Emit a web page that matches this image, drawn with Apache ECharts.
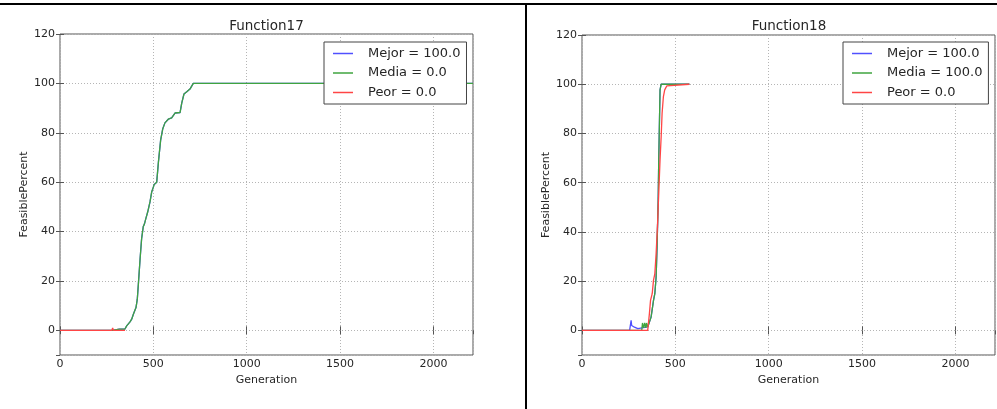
<!DOCTYPE html>
<html>
<head>
<meta charset="utf-8">
<script src="https://cdn.jsdelivr.net/npm/echarts@6/dist/echarts.min.js"></script>
<style>
html, body { margin: 0; padding: 0; background: #fff; }
#chart { width: 997px; height: 409px; }
</style>
</head>
<body>
<div id="chart"></div>
<script>
// axis ranges (same on both panels)
var xMin = 0, xMax = 2212, xStep = 500;
var yMin = -10, yMax = 120, yStep = 20;

var titles = ['Function17', 'Function18'];
var legend17 = ['Mejor = 100.0', 'Media = 0.0', 'Peor = 0.0'];
var legend18 = ['Mejor = 100.0', 'Media = 100.0', 'Peor = 0.0'];

// Function17 (left)
var f17MediaGen = [0, 280, 318, 322, 330, 336, 348, 357, 366, 375, 384, 393, 402, 407, 414, 420, 429, 437, 446, 452, 459, 470, 482, 491, 500, 504, 518, 527, 539, 550, 562, 580, 598, 607, 616, 643, 652, 664, 679, 696, 705, 714, 2212];
var f17MediaVal = [0, 0, 0.5, 0, 0.5, 0, 0.5, 1.8, 2, 3.4, 4.5, 6.5, 7, 9.2, 12.6, 19, 29, 37, 42, 43, 45, 48, 52, 56, 58, 59, 60, 68, 77, 81.5, 84, 85.5, 86, 86.5, 88, 88.2, 92, 95.7, 96.6, 97.7, 98, 100, 100];
var f17MejorGen = f17MediaGen;
var f17MejorVal = f17MediaVal;
var f17PeorGen = [0, 278, 282, 286, 348];
var f17PeorVal = [0, 0, 1, 0, 0];

// Function18 (right)
var f18MejorGen = [0, 255, 263, 266, 272, 281, 290, 299, 303, 352, 370, 383, 390, 397, 402, 408, 411, 415, 418, 424, 575];
var f18MejorVal = [0, 0, 4.1, 2, 2, 1.3, 1.3, 0.7, 0, 1.4, 5.4, 12.2, 14.9, 21.7, 33.9, 52.9, 69.2, 85.5, 97.7, 100, 100];
var f18MediaGen = [0, 232, 237, 242, 320, 324, 330, 336, 342, 346, 352, 370, 383, 390, 397, 402, 408, 411, 415, 418, 424, 575];
var f18MediaVal = [0, 0, 0.7, 0, 0, 3, 1, 3, 1, 3, 1.4, 5.4, 12.2, 14.9, 21.7, 33.9, 52.9, 69.2, 85.5, 97.7, 100, 100];
var f18PeorGen = [0, 352, 361, 367, 376, 383, 390, 397, 404, 411, 418, 424, 429, 436, 443, 454, 464, 575];
var f18PeorVal = [0, 0, 6.8, 12.2, 14.9, 20.4, 23, 31.2, 42, 55.6, 69.2, 78.7, 88.2, 95, 97.7, 99.3, 100, 100];

var colors = { mejor: '#5050ff', media: '#3fa43f', peor: '#ff4545' };
var textColor = '#262626';
var frameColor = '#555';
var font = 'DejaVu Sans';

function pairs(g, v) {
  return g.map(function (x, i) { return [x, v[i]]; });
}

var chart = echarts.init(document.getElementById('chart'), null, { renderer: 'canvas' });

var grids = [
  { left: 60, top: 34, width: 413, height: 321 },
  { left: 582, top: 35, width: 413, height: 320 }
];

var plain = function (v) { return String(v); };

var xAxes = [], yAxes = [];
grids.forEach(function (g, gi) {
  // bottom axis with labels
  xAxes.push({
    gridIndex: gi, type: 'value', position: 'bottom', min: xMin, max: xMax, interval: xStep,
    name: 'Generation', nameLocation: 'middle', nameGap: 20,
    nameTextStyle: { fontFamily: font, fontSize: 11, color: textColor },
    axisLine: { show: false },
    axisTick: { show: true, inside: true, length: 4, lineStyle: { color: frameColor } },
    axisLabel: { margin: 4, fontFamily: font, fontSize: 11, color: textColor, showMaxLabel: false, formatter: plain },
    splitLine: { show: true, lineStyle: { color: '#b5b5b5', type: [1, 2], width: 1 } }
  });
  // top axis, ticks only
  xAxes.push({
    gridIndex: gi, type: 'value', position: 'top', min: xMin, max: xMax, interval: xStep,
    axisLine: { show: false },
    axisTick: { show: true, inside: true, length: 4, lineStyle: { color: frameColor } },
    axisLabel: { show: false }, splitLine: { show: false }
  });
  yAxes.push({
    gridIndex: gi, type: 'value', position: 'left', min: yMin, max: yMax,
    minInterval: yStep, maxInterval: yStep, splitNumber: 6,
    name: 'FeasiblePercent', nameLocation: 'middle', nameGap: 30,
    nameTextStyle: { fontFamily: font, fontSize: 11, color: textColor },
    axisLine: { show: false },
    axisTick: { show: true, inside: true, length: 4, lineStyle: { color: frameColor } },
    axisLabel: { margin: 5, fontFamily: font, fontSize: 11, color: textColor, showMinLabel: false, formatter: plain },
    splitLine: { show: true, lineStyle: { color: '#b5b5b5', type: [1, 2], width: 1 } }
  });
  yAxes.push({
    gridIndex: gi, type: 'value', position: 'right', min: yMin, max: yMax,
    minInterval: yStep, maxInterval: yStep, splitNumber: 6,
    axisLine: { show: false },
    axisTick: { show: true, inside: true, length: 4, lineStyle: { color: frameColor } },
    axisLabel: { show: false }, splitLine: { show: false }
  });
});

function lineSeries(name, gi, g, v, color) {
  return {
    type: 'line', name: name, xAxisIndex: gi * 2, yAxisIndex: gi * 2,
    data: pairs(g, v), symbol: 'none', showSymbol: false, animation: false,
    lineStyle: { width: 1.3, color: color }, itemStyle: { color: color },
    emphasis: { disabled: true }
  };
}

function legendFor(names, left) {
  return {
    orient: 'vertical', left: left, top: 42, selectedMode: false,
    data: names.map(function (n) { return { name: n, icon: 'rect' }; }),
    padding: [4, 6, 4, 9], itemGap: 4.5, itemWidth: 20, itemHeight: 1.5,
    borderColor: '#444', borderWidth: 1, borderRadius: 0, backgroundColor: '#fff',
    textStyle: { fontFamily: font, fontSize: 13, color: textColor, padding: [0, 0, 0, 10], lineHeight: 15 }
  };
}

var option = {
  backgroundColor: '#fff',
  animation: false,
  title: [
    { text: titles[0], left: 266.5, top: 19, textAlign: 'center', padding: 0,
      textStyle: { fontFamily: font, fontSize: 13.5, fontWeight: 'normal', color: textColor } },
    { text: titles[1], left: 789, top: 19, textAlign: 'center', padding: 0,
      textStyle: { fontFamily: font, fontSize: 13.5, fontWeight: 'normal', color: textColor } }
  ],
  grid: grids.map(function (g) {
    return Object.assign({ show: true, borderColor: frameColor, borderWidth: 1, backgroundColor: 'transparent', containLabel: false }, g);
  }),
  xAxis: xAxes,
  yAxis: yAxes,
  legend: [legendFor(legend17, 324), legendFor(legend18, 843)],
  series: [
    lineSeries(legend17[0], 0, f17MejorGen, f17MejorVal, colors.mejor),
    lineSeries(legend17[1], 0, f17MediaGen, f17MediaVal, colors.media),
    lineSeries(legend17[2], 0, f17PeorGen, f17PeorVal, colors.peor),
    lineSeries(legend18[0], 1, f18MejorGen, f18MejorVal, colors.mejor),
    lineSeries(legend18[1], 1, f18MediaGen, f18MediaVal, colors.media),
    lineSeries(legend18[2], 1, f18PeorGen, f18PeorVal, colors.peor)
  ],
  graphic: [
    { type: 'rect', shape: { x: 0, y: 3, width: 997, height: 2 }, style: { fill: '#000' }, silent: true },
    { type: 'rect', shape: { x: 525, y: 3, width: 2, height: 406 }, style: { fill: '#000' }, silent: true }
  ]
};

chart.setOption(option);
</script>
</body>
</html>
